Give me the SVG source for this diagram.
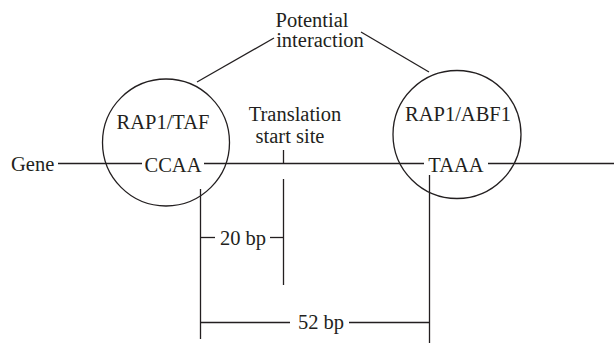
<svg xmlns="http://www.w3.org/2000/svg" width="614" height="343" viewBox="0 0 614 343">
<style>
text{font-family:"Liberation Serif","Times New Roman",serif;font-size:20.5px;fill:#231f20}
.l{stroke:#231f20;stroke-width:1.3;fill:none}
</style>
<rect width="614" height="343" fill="#fff"/>
<g id="connectors">
<line class="l" x1="58" y1="163.5" x2="142" y2="163.5"/>
<line class="l" x1="204" y1="163.5" x2="424" y2="163.5"/>
<line class="l" x1="488" y1="163.5" x2="614" y2="163.5"/>
<line class="l" x1="197" y1="82" x2="274" y2="38"/>
<line class="l" x1="361" y1="32" x2="429" y2="72"/>
<line class="l" x1="283.5" y1="150" x2="283.5" y2="163.5"/>
<line class="l" x1="283.5" y1="179" x2="283.5" y2="285"/>
<line class="l" x1="200.5" y1="189" x2="200.5" y2="339"/>
<line class="l" x1="429.5" y1="175" x2="429.5" y2="343"/>
<line class="l" x1="200.5" y1="237.5" x2="215" y2="237.5"/>
<line class="l" x1="270" y1="237.5" x2="283.5" y2="237.5"/>
<line class="l" x1="200.5" y1="322.5" x2="290" y2="322.5"/>
<line class="l" x1="349" y1="322.5" x2="429.5" y2="322.5"/>
</g>
<g id="rap1-taf">
<circle class="l" cx="166" cy="142.5" r="63.5"/>
<text x="163" y="129" text-anchor="middle">RAP1/TAF</text>
<text x="173" y="172" text-anchor="middle">CCAA</text>
</g>
<g id="rap1-abf1">
<circle class="l" cx="457" cy="134.5" r="64"/>
<text x="458" y="121" text-anchor="middle">RAP1/ABF1</text>
<text x="456" y="172" text-anchor="middle">TAAA</text>
</g>
<g id="gene-label"><text x="11" y="171">Gene</text></g>
<g id="potential-interaction">
<text x="312" y="27" text-anchor="middle">Potential</text>
<text x="320" y="47" text-anchor="middle">interaction</text>
</g>
<g id="translation-start">
<text x="295" y="121" text-anchor="middle">Translation</text>
<text x="290" y="143" text-anchor="middle">start site</text>
</g>
<g id="bp20"><text x="243" y="245" text-anchor="middle">20 bp</text></g>
<g id="bp52"><text x="321" y="329" text-anchor="middle">52 bp</text></g>
</svg>
